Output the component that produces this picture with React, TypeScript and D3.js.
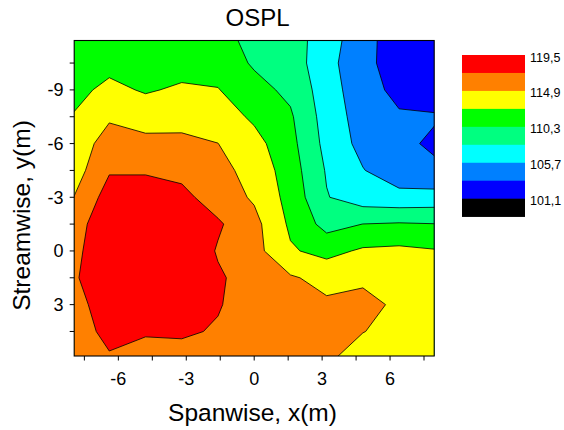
import React from "react";
import * as d3 from "d3";

// Grid coordinates of the measured OSPL field
const xValues = [-8, -6.4, -4.8, -3.2, -1.6, 0, 1.6, 3.2, 4.8, 6.4, 8];
const yValues = [-12, -10.5, -9, -7.5, -6, -4.5, -3, -1.5, 0, 1.5, 3, 4.5, 6];

// OSPL (dB), one row per y value, one column per x value
const ospl = [
  [111.0, 111.3, 111.2, 110.9, 110.7, 109.9, 109.0, 106.9, 104.2, 102.2, 102.2],
  [111.6, 112.0, 111.7, 111.8, 111.6, 110.03, 109.2, 106.5, 104.0, 102.4, 102.4],
  [112.0, 113.1, 112.4, 112.9, 112.7, 111.03, 109.8, 106.8, 104.3, 102.8, 102.83],
  [112.7, 114.6, 113.8, 114.0, 113.8, 112.2, 110.6, 107.0, 104.7, 103.65, 103.5],
  [113.5, 115.9, 115.59, 115.5, 114.92, 113.4, 111.0, 107.3, 105.0, 103.7, 103.17],
  [113.8, 117.0, 117.0, 116.6, 115.5, 114.2, 111.4, 107.8, 105.8, 104.34, 103.64],
  [114.85, 118.2, 118.2, 117.8, 116.14, 114.6, 111.8, 108.12, 106.75, 106.4, 106.6],
  [116.17, 118.8, 119.0, 118.8, 117.5, 115.6, 112.2, 109.5, 110.32, 110.5, 110.35],
  [116.53, 119.0, 119.3, 119.2, 117.0, 115.7, 112.85, 111.9, 112.92, 113.1, 112.75],
  [116.85, 119.0, 119.3, 119.2, 117.5, 116.2, 115.15, 114.2, 114.6, 113.9, 113.3],
  [116.04, 118.8, 119.0, 118.8, 117.35, 116.2, 115.9, 115.25, 115.4, 114.6, 113.6],
  [115.78, 118.0, 117.4, 117.5, 117.0, 116.0, 116.0, 115.6, 114.95, 114.3, 113.7],
  [115.6, 116.9, 116.4, 116.4, 116.0, 115.8, 115.8, 115.2, 114.0, 113.8, 113.7],
];

// Contour levels (lower bound of each band) and band colours
const levels = [101.1, 103.4, 105.7, 108.0, 110.3, 112.6, 114.9, 117.2];
const levelColors = ["#0000FF", "#0080FF", "#00FFFF", "#00FF80", "#00FF00", "#FFFF00", "#FF8000", "#FF0000"];
const belowColor = "#000000";

// Legend
const legendColors = ["#FF0000", "#FF8000", "#FFFF00", "#00FF00", "#00FF80", "#00FFFF", "#0080FF", "#0000FF", "#000000"];
const legendLabels = ["119,5", "114,9", "110,3", "105,7", "101,1"];

// Axes
const xMajorTicks = [-6, -3, 0, 3, 6];
const xMinorTicks = [-7.5, -4.5, -1.5, 1.5, 4.5, 7.5];
const yMajorTicks = [-9, -6, -3, 0, 3];
const yMinorTicks = [-10.5, -7.5, -4.5, -1.5, 1.5, 4.5];

const W = 564;
const H = 430;
const left = 74.2, right = 434.2, top = 40.5, bottom = 356;
const FONT = "'Liberation Sans', Arial, Helvetica, sans-serif";

export default function App() {
  const xScale = d3.scaleLinear().domain([-7.95, 7.95]).range([left, right]);
  const yScale = d3.scaleLinear().domain([-11.76, 5.87]).range([top, bottom]);

  const nx = xValues.length;
  const ny = yValues.length;
  const dxStep = xValues[1] - xValues[0];
  const dyStep = yValues[1] - yValues[0];
  const flat = ospl.flat();

  const contours = d3.contours().size([nx, ny]).thresholds(levels)(flat);

  const transform = d3.geoTransform({
    point(cx: number, cy: number) {
      const xv = xValues[0] + (cx - 0.5) * dxStep;
      const yv = yValues[0] + (cy - 0.5) * dyStep;
      (this as any).stream.point(xScale(xv), yScale(yv));
    },
  });
  const path = d3.geoPath(transform);

  const legendX = 462, legendW = 63, legendTop = 55, legendH = 17.96;

  return (
    <svg width={W} height={H} style={{ position: "absolute", left: 0, top: 0, background: "#fff" }} fontFamily={FONT}>
      <defs>
        <clipPath id="plotClip">
          <rect x={left} y={top} width={right - left} height={bottom - top} />
        </clipPath>
      </defs>
      <g clipPath="url(#plotClip)">
        <rect x={left} y={top} width={right - left} height={bottom - top} fill={belowColor} />
        {contours.map((c, i) => (
          <path key={"f" + i} d={path(c as any) || ""} fill={levelColors[i]} stroke="none" />
        ))}
        {contours.map((c, i) => (
          <path key={"l" + i} d={path(c as any) || ""} fill="none" stroke="#000" strokeWidth={0.8} strokeLinejoin="round" />
        ))}
      </g>
      <rect x={left} y={top} width={right - left} height={bottom - top} fill="none" stroke="#000" strokeWidth={1.1} />

      {/* x axis ticks */}
      {xMajorTicks.concat(xMinorTicks).map((t) => (
        <line key={"xt" + t} x1={xScale(t)} x2={xScale(t)} y1={bottom} y2={bottom + 4.5} stroke="#000" strokeWidth={1} />
      ))}
      {xMajorTicks.map((t) => (
        <text key={"xl" + t} x={xScale(t)} y={385} textAnchor="middle" fontSize={18}>
          {t < 0 ? "-" + Math.abs(t) : String(t)}
        </text>
      ))}
      {/* y axis ticks */}
      {yMajorTicks.concat(yMinorTicks).map((t) => (
        <line key={"yt" + t} x1={left - 4.5} x2={left} y1={yScale(t)} y2={yScale(t)} stroke="#000" strokeWidth={1} />
      ))}
      {yMajorTicks.map((t) => (
        <text key={"yl" + t} x={63.5} y={yScale(t)} dy="0.36em" textAnchor="end" fontSize={18}>
          {t < 0 ? "-" + Math.abs(t) : String(t)}
        </text>
      ))}

      <text x={257.5} y={26} textAnchor="middle" fontSize={24}>OSPL</text>
      <text x={252.5} y={420.5} textAnchor="middle" fontSize={24.5}>Spanwise, x(m)</text>
      <text transform={`translate(29.5,215.5) rotate(-90)`} textAnchor="middle" fontSize={24.5}>Streamwise, y(m)</text>

      {/* legend */}
      {legendColors.map((c, i) => (
        <rect key={"lg" + i} x={legendX} y={legendTop + i * legendH} width={legendW} height={legendH + 0.3} fill={c} />
      ))}
      {legendLabels.map((l, i) => (
        <text key={"ll" + i} x={530} y={legendTop + 2 * i * legendH + 2} dy="0.36em" fontSize={12.5}>
          {l}
        </text>
      ))}
    </svg>
  );
}
